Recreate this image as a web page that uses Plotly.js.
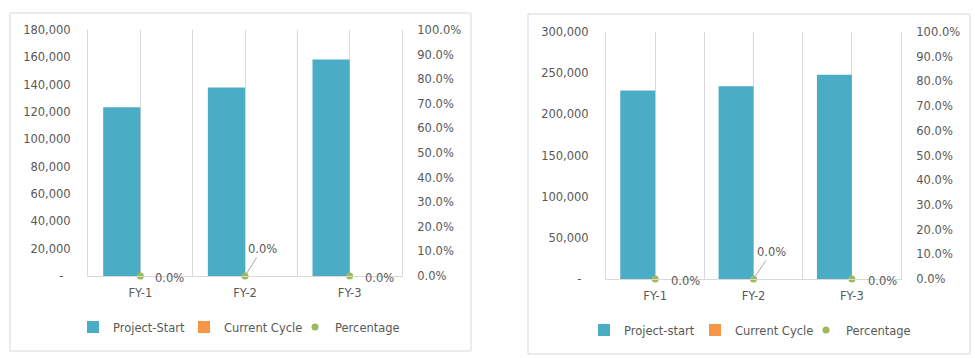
<!DOCTYPE html>
<html>
<head>
<meta charset="utf-8">
<script src="https://cdn.plot.ly/plotly-3.0.1.min.js"></script>
<style>html,body{margin:0;padding:0;background:#fff;}#chart{width:975px;height:358px;}</style>
</head>
<body>
<div id="chart"></div>
<script>
// ---------- data ----------
const categories = ['FY-1', 'FY-2', 'FY-3'];

const leftProjectStart = [123500, 138000, 158500];
const leftCurrentCycle = [0, 0, 0];
const leftPercentage = [0, 0, 0];

const rightProjectStart = [229000, 234000, 248000];
const rightCurrentCycle = [0, 0, 0];
const rightPercentage = [0, 0, 0];

const leftTickVals = [0, 20000, 40000, 60000, 80000, 100000, 120000, 140000, 160000, 180000];
const leftTickText = ['-\u00a0\u00a0', '20,000', '40,000', '60,000', '80,000', '100,000', '120,000', '140,000', '160,000', '180,000'];
const rightTickVals = [0, 50000, 100000, 150000, 200000, 250000, 300000];
const rightTickText = ['-\u00a0\u00a0', '50,000', '100,000', '150,000', '200,000', '250,000', '300,000'];
const pctTickVals = [0, 0.1, 0.2, 0.3, 0.4, 0.5, 0.6, 0.7, 0.8, 0.9, 1.0];
const pctTickText = ['0.0%', '10.0%', '20.0%', '30.0%', '40.0%', '50.0%', '60.0%', '70.0%', '80.0%', '90.0%', '100.0%'];

const leftNames = ['Project-Start', 'Current Cycle', 'Percentage'];
const rightNames = ['Project-start', 'Current Cycle', 'Percentage'];

// ---------- styles ----------
const TEAL = '#4BACC6', ORANGE = '#F79646', GREEN = '#9BBB59';
const GRID = '#D9D9D9', TXT = '#595959';
const W = 975, H = 358;
const px = v => v / W, py = v => 1 - v / H;

function traces(ps, cc, pct, names, xa, ya, xo, yo, lg) {
  return [
    {type: 'bar', x: categories, y: ps, name: names[0], xaxis: xa, yaxis: ya,
     marker: {color: TEAL}, legend: lg, hoverinfo: 'skip'},
    {type: 'bar', x: categories, y: cc, name: names[1], xaxis: xa, yaxis: ya,
     marker: {color: ORANGE}, legend: lg, hoverinfo: 'skip'},
    {type: 'scatter', mode: 'markers', x: categories, y: pct, name: names[2], xaxis: xo, yaxis: yo,
     marker: {color: GREEN, size: 7}, cliponaxis: false, legend: lg, hoverinfo: 'skip'}
  ];
}

function pctAnnotations(pct, xo, yo, shiftL, arrowDx, arrowDy) {
  return categories.map((c, i) => {
    const t = (pct[i] * 100).toFixed(1) + '%';
    if (i === 1) {
      return {x: c, y: pct[i], xref: xo, yref: yo, text: t, showarrow: true,
              arrowhead: 0, arrowwidth: 1, arrowcolor: '#A6A6A6', ax: arrowDx, ay: arrowDy,
              font: {size: 11.5, color: TXT}, standoff: 2};
    }
    return {x: c, y: pct[i], xref: xo, yref: yo, text: t, showarrow: false,
            xanchor: 'left', yanchor: 'middle', xshift: shiftL, yshift: -2,
            font: {size: 11.5, color: TXT}};
  });
}

const data = [].concat(
  traces(leftProjectStart, leftCurrentCycle, leftPercentage, leftNames, 'x', 'y', 'x2', 'y2', 'legend'),
  traces(rightProjectStart, rightCurrentCycle, rightPercentage, rightNames, 'x3', 'y3', 'x4', 'y4', 'legend2')
);

const catRange = [-0.5, categories.length - 0.5];

function baseX(domain, anchor) {
  return {domain: domain, anchor: anchor, type: 'category', range: catRange,
          tickson: 'boundaries', ticks: '', showgrid: true, gridcolor: GRID, gridwidth: 1,
          showline: true, linecolor: GRID, linewidth: 1, zeroline: false,
          ticklabelstandoff: 6, tickfont: {size: 11.5, color: TXT}, fixedrange: true};
}
function overX(over, anchor) {
  return {overlaying: over, anchor: anchor, type: 'category', range: catRange,
          showgrid: true, gridcolor: GRID, gridwidth: 1, showticklabels: false,
          showline: false, ticks: '', zeroline: false, fixedrange: true};
}
function leftY(domain, anchor, maxv, tv, tt) {
  return {domain: domain, anchor: anchor, range: [0, maxv], tickvals: tv, ticktext: tt,
          showgrid: false, zeroline: false, showline: true, linecolor: GRID, ticks: '',
          ticklabelstandoff: 14, tickfont: {size: 11.5, color: TXT}, fixedrange: true};
}
function rightY(over, anchor) {
  return {overlaying: over, anchor: anchor, side: 'right', range: [0, 1],
          tickvals: pctTickVals, ticktext: pctTickText, showgrid: false, zeroline: false,
          showline: true, linecolor: GRID, ticks: '', ticklabelstandoff: 12,
          tickfont: {size: 11.5, color: TXT}, fixedrange: true};
}

const layout = {
  width: W, height: H,
  margin: {l: 0, r: 0, t: 0, b: 0},
  paper_bgcolor: '#ffffff', plot_bgcolor: 'rgba(0,0,0,0)',
  font: {family: 'DejaVu Sans', size: 11.5, color: TXT},
  barmode: 'group', bargap: 0.29, bargroupgap: 0,
  showlegend: true,
  xaxis: baseX([px(88), px(402)], 'y'),
  xaxis2: overX('x', 'y2'),
  yaxis: leftY([py(276), py(30)], 'x', 180000, leftTickVals, leftTickText),
  yaxis2: rightY('y', 'x2'),
  xaxis3: baseX([px(606), px(901)], 'y3'),
  xaxis4: overX('x3', 'y4'),
  yaxis3: leftY([py(279), py(32)], 'x3', 300000, rightTickVals, rightTickText),
  yaxis4: rightY('y3', 'x4'),
  legend: {orientation: 'h', x: px(73), xanchor: 'left', y: py(327), yanchor: 'middle',
           entrywidth: 66, entrywidthmode: 'pixels', font: {size: 11.5, color: TXT},
           bgcolor: 'rgba(0,0,0,0)', itemclick: false, itemdoubleclick: false},
  legend2: {orientation: 'h', x: px(584), xanchor: 'left', y: py(330), yanchor: 'middle',
           entrywidth: 66, entrywidthmode: 'pixels', font: {size: 11.5, color: TXT},
           bgcolor: 'rgba(0,0,0,0)', itemclick: false, itemdoubleclick: false},
  shapes: [
    {type: 'rect', xref: 'paper', yref: 'paper', x0: px(10), x1: px(471), y0: py(351), y1: py(13),
     line: {color: GRID, width: 1}, layer: 'below'},
    {type: 'rect', xref: 'paper', yref: 'paper', x0: px(528), x1: px(970), y0: py(354), y1: py(14),
     line: {color: GRID, width: 1}, layer: 'below'}
  ],
  annotations: [].concat(
    pctAnnotations(leftPercentage, 'x2', 'y2', 13, 17, -27),
    pctAnnotations(rightPercentage, 'x4', 'y4', 14, 18, -27)
  )
};

Plotly.newPlot('chart', data, layout, {displayModeBar: false, staticPlot: true});
</script>
</body>
</html>
